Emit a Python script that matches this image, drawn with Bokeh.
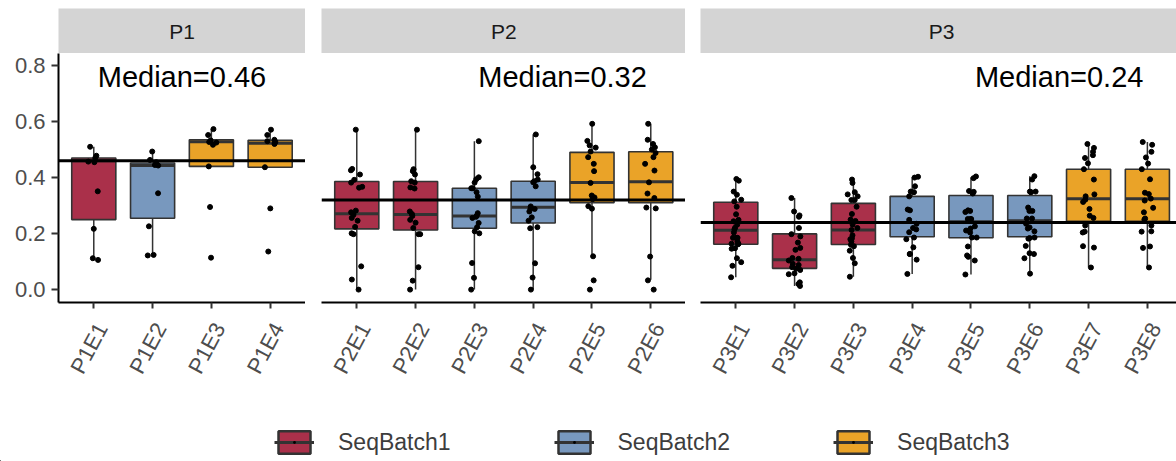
import math
from bokeh.plotting import figure
from bokeh.models import (Range1d, FixedTicker, Span, Label, Legend, LegendItem, LinearAxis,
                          PrintfTickFormatter, ColumnDataSource)
from bokeh.layouts import row, column
from bokeh.transform import jitter
from bokeh.core.properties import value
from bokeh.embed import file_html
from bokeh.resources import INLINE

FONT = "Liberation Sans"

# ---------------- data ----------------
batch_names = ["SeqBatch1", "SeqBatch2", "SeqBatch3"]
batch_colors = ["#AA304A", "#7898BE", "#EAA328"]

y_ticks = [0.0, 0.2, 0.4, 0.6, 0.8]

p1_cats = ["P1E1", "P1E2", "P1E3", "P1E4"]
p1_batch = [0, 1, 2, 2]
p1_lo = [0.106, 0.122, 0.44, 0.437]
p1_q1 = [0.25, 0.255, 0.44, 0.437]
p1_med = [0.46, 0.443, 0.528, 0.523]
p1_q3 = [0.47, 0.452, 0.535, 0.533]
p1_hi = [0.51, 0.493, 0.573, 0.571]
p1_overall = 0.46
p1_points = [
    [0.51, 0.478, 0.47, 0.457, 0.455, 0.351, 0.217, 0.112, 0.106],
    [0.493, 0.463, 0.455, 0.445, 0.443, 0.344, 0.226, 0.124, 0.122],
    [0.573, 0.552, 0.533, 0.527, 0.525, 0.517, 0.44, 0.295, 0.114],
    [0.571, 0.552, 0.535, 0.53, 0.527, 0.52, 0.437, 0.29, 0.136],
]

p2_cats = ["P2E1", "P2E2", "P2E3", "P2E4", "P2E5", "P2E6"]
p2_batch = [0, 0, 1, 1, 2, 2]
p2_lo = [0.0, 0.0, 0.0, 0.0, 0.119, 0.035]
p2_q1 = [0.217, 0.213, 0.219, 0.238, 0.31, 0.31]
p2_med = [0.271, 0.268, 0.263, 0.294, 0.382, 0.385]
p2_q3 = [0.386, 0.386, 0.362, 0.387, 0.49, 0.492]
p2_hi = [0.571, 0.571, 0.53, 0.554, 0.592, 0.592]
p2_overall = 0.32
p2_points = [
    [0.571, 0.431, 0.426, 0.411, 0.392, 0.382, 0.367, 0.364, 0.282, 0.276, 0.267,
     0.256, 0.246, 0.224, 0.201, 0.198, 0.083, 0.036, 0.0],
    [0.571, 0.43, 0.423, 0.411, 0.387, 0.382, 0.365, 0.361, 0.279, 0.27, 0.263,
     0.249, 0.239, 0.22, 0.198, 0.198, 0.08, 0.032, 0.0],
    [0.53, 0.401, 0.394, 0.382, 0.362, 0.362, 0.348, 0.332, 0.273, 0.264, 0.26,
     0.256, 0.238, 0.223, 0.208, 0.201, 0.095, 0.042, 0.0],
    [0.554, 0.437, 0.412, 0.393, 0.387, 0.383, 0.369, 0.297, 0.29, 0.288, 0.279,
     0.258, 0.246, 0.223, 0.219, 0.094, 0.043, 0.0],
    [0.592, 0.531, 0.515, 0.507, 0.493, 0.473, 0.449, 0.423, 0.381, 0.336, 0.329,
     0.323, 0.298, 0.289, 0.119, 0.033, 0.0],
    [0.592, 0.535, 0.52, 0.508, 0.5, 0.488, 0.473, 0.449, 0.425, 0.383, 0.343,
     0.327, 0.293, 0.29, 0.118, 0.033, 0.0],
]

p3_cats = ["P3E1", "P3E2", "P3E3", "P3E4", "P3E5", "P3E6", "P3E7", "P3E8"]
p3_batch = [0, 0, 0, 1, 1, 1, 2, 2]
p3_lo = [0.044, 0.013, 0.046, 0.056, 0.054, 0.058, 0.079, 0.079]
p3_q1 = [0.162, 0.076, 0.161, 0.189, 0.185, 0.189, 0.244, 0.244]
p3_med = [0.212, 0.107, 0.213, 0.24, 0.242, 0.246, 0.324, 0.324]
p3_q3 = [0.312, 0.199, 0.308, 0.333, 0.336, 0.336, 0.43, 0.43]
p3_hi = [0.394, 0.327, 0.393, 0.401, 0.401, 0.405, 0.516, 0.527]
p3_overall = 0.24
p3_points = [
    [0.395, 0.389, 0.35, 0.339, 0.321, 0.315, 0.296, 0.269, 0.249, 0.244, 0.232,
     0.221, 0.215, 0.204, 0.185, 0.185, 0.185, 0.172, 0.164, 0.164, 0.162, 0.148,
     0.146, 0.112, 0.098, 0.085, 0.044],
    [0.327, 0.279, 0.265, 0.26, 0.22, 0.198, 0.19, 0.168, 0.149, 0.142, 0.113, 0.11,
     0.104, 0.092, 0.088, 0.08, 0.075, 0.07, 0.058, 0.055, 0.026, 0.02, 0.013],
    [0.393, 0.381, 0.348, 0.34, 0.333, 0.32, 0.32, 0.296, 0.27, 0.25, 0.245, 0.232,
     0.22, 0.213, 0.194, 0.183, 0.18, 0.172, 0.16, 0.155, 0.139, 0.113, 0.094, 0.046],
    [0.403, 0.4, 0.369, 0.35, 0.348, 0.333, 0.286, 0.283, 0.249, 0.235, 0.22, 0.215,
     0.205, 0.186, 0.18, 0.151, 0.127, 0.127, 0.107, 0.056],
    [0.404, 0.398, 0.352, 0.349, 0.343, 0.283, 0.281, 0.277, 0.252, 0.252, 0.252,
     0.226, 0.218, 0.211, 0.204, 0.186, 0.186, 0.154, 0.122, 0.117, 0.104, 0.054],
    [0.405, 0.393, 0.35, 0.35, 0.348, 0.293, 0.281, 0.281, 0.254, 0.254, 0.235,
     0.222, 0.218, 0.208, 0.186, 0.184, 0.182, 0.156, 0.13, 0.127, 0.112, 0.057],
    [0.52, 0.506, 0.492, 0.48, 0.47, 0.451, 0.43, 0.393, 0.34, 0.333, 0.321, 0.313,
     0.288, 0.264, 0.256, 0.229, 0.207, 0.204, 0.155, 0.15, 0.079],
    [0.527, 0.517, 0.492, 0.472, 0.45, 0.43, 0.394, 0.346, 0.341, 0.325, 0.318,
     0.292, 0.276, 0.254, 0.25, 0.229, 0.208, 0.207, 0.154, 0.149, 0.079],
]

panels = [
    ("P1", p1_cats, p1_batch, p1_lo, p1_q1, p1_med, p1_q3, p1_hi, p1_points, p1_overall),
    ("P2", p2_cats, p2_batch, p2_lo, p2_q1, p2_med, p2_q3, p2_hi, p2_points, p2_overall),
    ("P3", p3_cats, p3_batch, p3_lo, p3_q1, p3_med, p3_q3, p3_hi, p3_points, p3_overall),
]

# ---------------- layout constants ----------------
UNIT = 58.8               # px per category
FRAME_W = [247, 364, 476]
BORDER_L = [58, 16, 15]
TOP = 8
FRAME_H = 249
STRIP_H = 45
BOTTOM = 108
LEG_H = 461 - (TOP + STRIP_H + FRAME_H + BOTTOM)
Y0, Y1 = -0.046, 0.843
BOX_W = 0.75
EDGE = "#333333"
ANGLE = math.radians(62)
LABEL_SHIFT = 8 / UNIT    # rotated tick labels sit a little right of their tick

columns = []
for i, (pname, cats, batch, lo, q1, med, q3, hi, pts, overall) in enumerate(panels):
    n = len(cats)
    xs = list(range(1, n + 1))
    x_end = 0.4 + FRAME_W[i] / UNIT
    xr = Range1d(0.4, x_end)

    p = figure(frame_width=FRAME_W[i], frame_height=FRAME_H, x_range=xr,
               y_range=Range1d(Y0, Y1), output_backend="svg", toolbar_location=None,
               min_border_left=BORDER_L[i], min_border_right=0, min_border_top=0,
               min_border_bottom=BOTTOM,
               y_axis_location="left" if i == 0 else None)
    p.outline_line_color = None
    p.xgrid.visible = False
    p.ygrid.visible = False
    p.background_fill_color = "white"

    # x axis: line + ticks
    xa = p.xaxis[0]
    xa.ticker = FixedTicker(ticks=xs)
    xa.major_label_text_alpha = 0
    xa.major_label_text_font_size = "1px"
    xa.major_label_standoff = 0
    xa.axis_line_width = 2
    xa.axis_line_color = "black"
    xa.major_tick_line_color = "#333333"
    xa.major_tick_line_width = 2
    xa.major_tick_out = 6
    xa.major_tick_in = 0
    xa.minor_tick_line_color = None

    # second axis below carries the rotated category labels
    lab_ticks = [x + LABEL_SHIFT for x in xs]
    xl = LinearAxis(ticker=FixedTicker(ticks=lab_ticks),
                    major_label_overrides={t: c for t, c in zip(lab_ticks, cats)},
                    major_label_orientation=ANGLE, major_label_text_font=FONT,
                    major_label_text_font_size="22px", major_label_text_color="#4d4d4d",
                    major_label_standoff=10, axis_line_color=None,
                    major_tick_line_color=None, minor_tick_line_color=None)
    p.add_layout(xl, "below")

    if i == 0:
        ya = p.yaxis[0]
        ya.ticker = FixedTicker(ticks=y_ticks)
        ya.formatter = PrintfTickFormatter(format="%.1f")
        ya.major_label_text_font = FONT
        ya.major_label_text_font_size = "22px"
        ya.major_label_text_color = "#4d4d4d"
        ya.axis_line_width = 2
        ya.axis_line_color = "black"
        ya.major_tick_line_color = "#333333"
        ya.major_tick_line_width = 2
        ya.major_tick_out = 7
        ya.major_tick_in = 0
        ya.minor_tick_line_color = None
        ya.major_label_standoff = 6

    colors = [batch_colors[b] for b in batch]
    src = ColumnDataSource(dict(x=xs, lo=lo, q1=q1, med=med, q3=q3, hi=hi, color=colors,
                                ml=[x - BOX_W / 2 for x in xs],
                                mr=[x + BOX_W / 2 for x in xs]))
    p.segment(x0="x", y0="lo", x1="x", y1="q1", source=src, line_color=EDGE, line_width=1.5)
    p.segment(x0="x", y0="q3", x1="x", y1="hi", source=src, line_color=EDGE, line_width=1.5)
    p.vbar(x="x", width=BOX_W, bottom="q1", top="q3", source=src, fill_color="color",
           line_color=EDGE, line_width=1.6)
    p.segment(x0="ml", y0="med", x1="mr", y1="med", source=src, line_color=EDGE, line_width=3)

    px, py = [], []
    for x, vals in zip(xs, pts):
        px += [x] * len(vals)
        py += vals
    psrc = ColumnDataSource(dict(x=px, y=py))
    p.scatter(x=jitter("x", width=0.2), y="y", source=psrc, size=5, color="black")

    p.add_layout(Span(location=overall, dimension="width", line_color="black", line_width=3))
    p.add_layout(Label(x=n - 1.5, y=0.76, text=f"Median={overall:.2f}", text_align="center",
                       text_baseline="middle", text_font=FONT, text_font_size="29px",
                       text_color="black"))

    # strip
    s = figure(frame_width=FRAME_W[i], frame_height=STRIP_H, x_range=xr, y_range=Range1d(0, 1),
               output_backend="svg", toolbar_location=None, min_border_left=BORDER_L[i],
               min_border_right=0, min_border_top=TOP, min_border_bottom=0,
               x_axis_location=None, y_axis_location=None)
    s.outline_line_color = None
    s.xgrid.visible = False
    s.ygrid.visible = False
    s.background_fill_color = "#D4D4D4"
    s.text(x=[(n + 1) / 2], y=[0.5], text=[pname], text_align="center", text_baseline="middle",
           text_font=value(FONT), text_font_size=value("21px"), text_color="#1a1a1a")

    columns.append(column(s, p))

# legend figure (dummy renderers outside the visible range supply legend glyphs)
lf = figure(frame_width=1176, frame_height=LEG_H, x_range=Range1d(0, 1), y_range=Range1d(0, 1),
            output_backend="svg", toolbar_location=None, min_border=0,
            x_axis_location=None, y_axis_location=None)
lf.outline_line_color = None
lf.xgrid.visible = False
lf.ygrid.visible = False
items = []
for name, c in zip(batch_names, batch_colors):
    r1 = lf.vbar(x=[-5], top=[-5], bottom=[-6], width=0.1, fill_color=c, line_color=EDGE,
                 line_width=2.5)
    r2 = lf.line(x=[-5, -4], y=[-5, -5], line_color=EDGE, line_width=3)
    r3 = lf.scatter(x=[-5], y=[-5], marker="dot", size=14, line_color="black",
                    fill_color="black")
    items.append(LegendItem(label=name, renderers=[r1, r2, r3]))
legend = Legend(items=items, orientation="horizontal", location=(274, 5), glyph_width=40,
                glyph_height=28, label_standoff=24, spacing=103, padding=0, margin=0,
                border_line_color=None, background_fill_alpha=0,
                label_text_font=FONT, label_text_font_size="23px", label_text_color="#3d3d3d")
lf.add_layout(legend)

layout = column(row(*columns), lf)
open("out.html", "w").write(file_html(layout, INLINE))
